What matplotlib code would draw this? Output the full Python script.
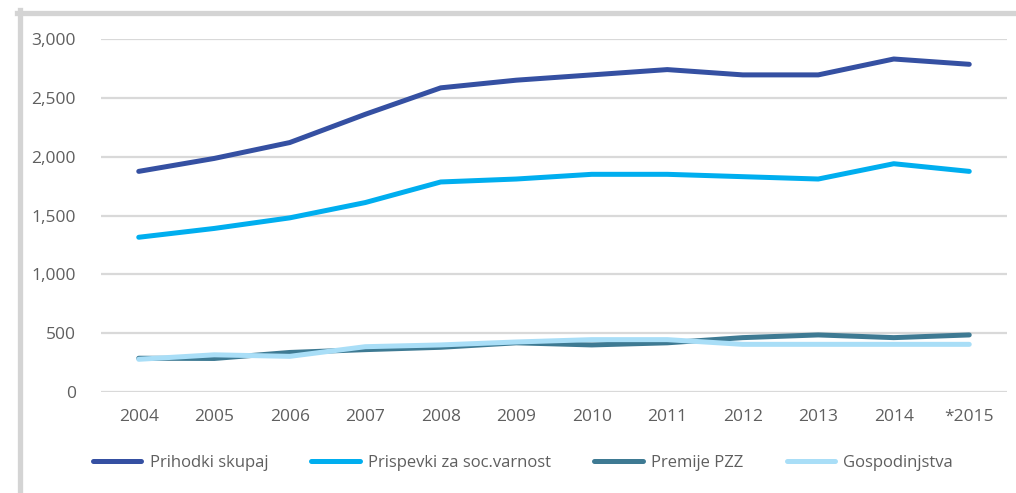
import matplotlib
matplotlib.use('Agg')
import matplotlib.pyplot as plt
from matplotlib.lines import Line2D

plt.rcParams['font.family'] = ['Open Sans', 'DejaVu Sans']

years = ['2004', '2005', '2006', '2007', '2008', '2009',
         '2010', '2011', '2012', '2013', '2014', '*2015']

prihodki = [1875, 1985, 2120, 2360, 2585, 2650, 2695, 2740, 2695, 2695, 2830, 2785]
prispevki = [1315, 1390, 1480, 1610, 1785, 1810, 1850, 1850, 1830, 1810, 1940, 1875]
premije = [287, 285, 336, 360, 380, 418, 400, 418, 462, 485, 462, 485]
gospodinjstva = [278, 316, 303, 385, 400, 425, 445, 445, 405, 405, 405, 405]

labels = ['Prihodki skupaj', 'Prispevki za soc.varnost', 'Premije PZZ', 'Gospodinjstva']
colors = ['#3550A2', '#00AEEF', '#3E7A93', '#A9DEF7']
series = [prihodki, prispevki, premije, gospodinjstva]

text_col = '#5F5F5F'
grid_col = '#D9D9D9'

fig = plt.figure(figsize=(10.16, 4.93), dpi=100)
ax = fig.add_axes([101 / 1016, 1 - 392 / 493, 906 / 1016, 353 / 493])

x = list(range(len(years)))
for vals, col, lab in zip(series, colors, labels):
    ax.plot(x, vals, color=col, lw=3.6, label=lab, solid_capstyle='round',
            solid_joinstyle='round')

ax.set_xlim(-0.5, len(years) - 0.5)
ax.set_ylim(0, 3000)
ax.set_yticks(range(0, 3001, 500))
ax.set_yticklabels(['{:,}'.format(v) for v in range(0, 3001, 500)])
ax.set_xticks(x)
ax.set_xticklabels(years)
ax.yaxis.grid(True, color=grid_col, lw=1.6)
ax.set_axisbelow(True)
for s in ax.spines.values():
    s.set_visible(False)
ax.tick_params(length=0, labelsize=12.5, labelcolor=text_col)
ax.tick_params(axis='y', pad=18)
ax.tick_params(axis='x', pad=12)

leg = fig.legend(loc='center', bbox_to_anchor=(523 / 1016, 1 - 463 / 493), ncol=4,
                 frameon=False, fontsize=12, handlelength=2.9, handletextpad=0.5,
                 columnspacing=2.6, labelcolor=text_col)
for h in leg.get_lines():
    h.set_linewidth(3.6)
    h.set_solid_capstyle('round')

# outer frame
fig.add_artist(Line2D([17 / 1016, 1], [1 - 12.5 / 493, 1 - 12.5 / 493],
                      transform=fig.transFigure, color='#D4D4D4', lw=3.8))
fig.add_artist(Line2D([19.5 / 1016, 19.5 / 1016], [0, 1 - 10 / 493],
                      transform=fig.transFigure, color='#D4D4D4', lw=3.8))

fig.savefig('out.png', dpi=100)
